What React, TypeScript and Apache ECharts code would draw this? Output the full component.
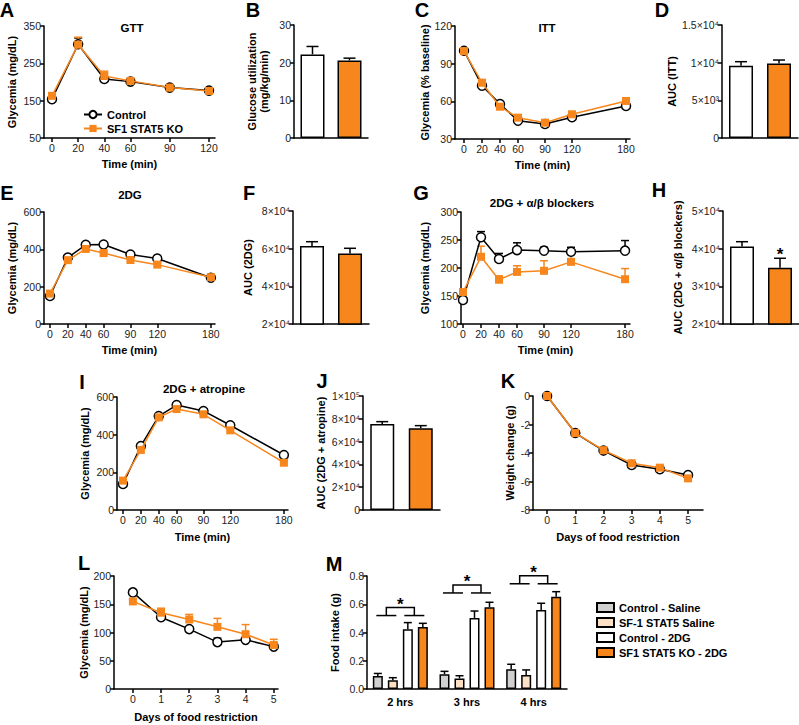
import React, { useEffect, useRef } from "react";
import * as echarts from "echarts";

const ORANGE = "#F7861C";
const PEACH = "#FBE0C4";
const GREY = "#D0D0D0";
const FONT = "Arial, 'Liberation Sans', Helvetica, sans-serif";

// ---------- A: GTT ----------
const gttTime = [0, 20, 40, 60, 90, 120];
const gttControl = [154, 301, 208, 201, 185, 177];
const gttControlSem = [4, 17, 5, 5, 4, 3];
const gttKO = [163, 300, 216, 203, 185, 176];
const gttKOSem = [4, 20, 13, 5, 3, 3];

// ---------- B ----------
const groups = ["Control", "SF1 STAT5 KO"];
const glucoseUtil = [22.2, 20.6];
const glucoseUtilSem = [2.1, 0.6];

// ---------- C: ITT ----------
const ittTime = [0, 20, 40, 60, 90, 120, 180];
const ittControl = [100.3, 72.5, 57.9, 44.6, 42, 47.3, 56.3];
const ittControlSem = [1.5, 2, 2, 1.5, 1.5, 1.5, 2];
const ittKO = [100, 74.8, 55.7, 47, 43, 49.7, 60.3];
const ittKOSem = [1.5, 2.5, 2, 1.5, 1.5, 2, 2];

// ---------- D ----------
const aucITT = [9600, 9900];
const aucITTSem = [530, 450];

// ---------- E: 2DG ----------
const dgTime = [0, 20, 40, 60, 90, 120, 180];
const dgControl = [150, 356, 424, 426, 372, 351, 248];
const dgControlSem = [6, 8, 8, 8, 8, 8, 8];
const dgKO = [163, 342, 402, 380, 343, 318, 251];
const dgKOSem = [6, 8, 8, 8, 8, 8, 8];

// ---------- F ----------
const aucDG = [61400, 57500];
const aucDGSem = [2300, 2700];

// ---------- G: 2DG + a/b blockers ----------
const abTime = [0, 20, 40, 60, 90, 120, 180];
const abControl = [143, 255, 216, 232, 231, 229, 231];
const abControlSem = [3, 10, 10, 13, 6, 8, 18];
const abKO = [157, 220, 179, 193, 195, 211, 180];
const abKOSem = [4, 19, 7, 11, 18, 20, 19];

// ---------- H ----------
const aucAB = [40600, 34950];
const aucABSem = [1250, 2500];

// ---------- I: 2DG + atropine ----------
const atTime = [0, 20, 40, 60, 90, 120, 180];
const atControl = [138, 340, 499, 557, 526, 450, 292];
const atControlSem = [6, 8, 8, 8, 8, 8, 8];
const atKO = [156, 319, 492, 536, 508, 423, 251];
const atKOSem = [6, 8, 8, 8, 8, 8, 8];

// ---------- J ----------
const aucAT = [75400, 71700];
const aucATSem = [2100, 2300];

// ---------- K: weight change ----------
const days = [0, 1, 2, 3, 4, 5];
const wtControl = [0, -2.6, -3.83, -4.84, -5.14, -5.54];
const wtControlSem = [0.05, 0.1, 0.1, 0.1, 0.1, 0.1];
const wtKO = [0, -2.6, -3.8, -4.72, -5.03, -5.78];
const wtKOSem = [0.05, 0.1, 0.1, 0.1, 0.1, 0.1];

// ---------- L: glycemia during food restriction ----------
const frControl = [171, 127, 106, 83, 87, 75];
const frControlSem = [5, 3, 4, 7, 3, 3];
const frKO = [155, 135, 123, 110, 97, 78];
const frKOSem = [4, 8, 9, 15, 17, 10];

// ---------- M: food intake ----------
const mTimes = ["2 hrs", "3 hrs", "4 hrs"];
const mGroups = ["Control - Saline", "SF-1 STAT5 Saline", "Control - 2DG", "SF1 STAT5 KO - 2DG"];
const ctlSaline = [0.092, 0.104, 0.139];
const ctlSalineSem = [0.018, 0.021, 0.036];
const koSaline = [0.062, 0.075, 0.099];
const koSalineSem = [0.018, 0.019, 0.036];
const ctl2DG = [0.423, 0.503, 0.56];
const ctl2DGSem = [0.047, 0.049, 0.047];
const ko2DG = [0.439, 0.578, 0.653];
const ko2DGSem = [0.026, 0.036, 0.036];
const mSigLevel = [0.52, 0.68, 0.745];

const SUPS: Record<string, string> = { "0": "⁰", "1": "¹", "2": "²", "3": "³", "4": "⁴", "5": "⁵", "6": "⁶", "7": "⁷", "8": "⁸", "9": "⁹" };
function sci(v: number): string {
  if (v === 0) return "0";
  const e = Math.floor(Math.log10(v) + 1e-9);
  const m = +(v / Math.pow(10, e)).toFixed(2);
  return `${m}×10${String(e).split("").map((c) => SUPS[c]).join("")}`;
}

const axisLineStyle = { show: true, onZero: false, lineStyle: { color: "#000", width: 1.5 } };
const tickStyle = { show: true, inside: false, length: 4, lineStyle: { color: "#000", width: 1.5 } };
const labelStyle = { color: "#222", fontSize: 10.5, fontFamily: FONT, margin: 3 };
const nameStyle = { color: "#000", fontSize: 11, fontWeight: "bold" as const, fontFamily: FONT };

function errRender(color: string, capHalf: number, offset = 0) {
  return (params: any, api: any) => {
    const x = api.value(0);
    const m = api.value(1);
    const e = api.value(2);
    const p0 = api.coord([x, m]);
    const p1 = api.coord([x, m + e]);
    const cx = p0[0] + offset;
    return {
      type: "group",
      children: [
        { type: "line", shape: { x1: cx, y1: p0[1], x2: cx, y2: p1[1] }, style: { stroke: color, lineWidth: 1.5 } },
        { type: "line", shape: { x1: cx - capHalf, y1: p1[1], x2: cx + capHalf, y2: p1[1] }, style: { stroke: color, lineWidth: 1.5 } },
      ],
    };
  };
}

function starRender() {
  return (params: any, api: any) => {
    const p = api.coord([api.value(0), api.value(1)]);
    return {
      type: "text",
      x: p[0],
      y: p[1] - 4,
      style: { text: "*", fill: "#000", font: `bold 17px ${FONT}`, align: "center", verticalAlign: "middle" },
    };
  };
}

function bracketRender() {
  return (params: any, api: any) => {
    const c = api.coord([api.value(0), api.value(1)]);
    const b = api.size([1, 0])[0];
    const y = c[1];
    const top = y - 8;
    const st = { stroke: "#000", lineWidth: 1.5, fill: "none" };
    return {
      type: "group",
      children: [
        { type: "line", shape: { x1: c[0] - 0.36 * b, y1: y, x2: c[0] - 0.06 * b, y2: y }, style: st },
        { type: "line", shape: { x1: c[0] + 0.06 * b, y1: y, x2: c[0] + 0.36 * b, y2: y }, style: st },
        { type: "polyline", shape: { points: [[c[0] - 0.21 * b, y], [c[0] - 0.21 * b, top], [c[0] + 0.21 * b, top], [c[0] + 0.21 * b, y]] }, style: st },
        { type: "text", x: c[0], y: top - 3, style: { text: "*", fill: "#000", font: `bold 17px ${FONT}`, align: "center", verticalAlign: "middle" } },
      ],
    };
  };
}

const zip = (xs: number[], ys: number[]) => xs.map((x, i) => [x, ys[i]]);
const zip3 = (xs: number[], ys: number[], es: number[]) => xs.map((x, i) => [x, ys[i], es[i]]);

function buildOption() {
  const grid: any[] = [];
  const xAxis: any[] = [];
  const yAxis: any[] = [];
  const series: any[] = [];

  function linePanel(p: any) {
    const i = grid.length;
    grid.push({ ...p.rect, outerBoundsMode: "none", containLabel: false });
    xAxis.push({
      type: "value", gridIndex: i, min: p.xMin, max: p.xMax,
      axisLine: axisLineStyle, splitLine: { show: false },
      axisTick: { ...tickStyle, customValues: p.x },
      axisLabel: { ...labelStyle, margin: 4, customValues: p.x },
      name: p.xName, nameLocation: "middle", nameGap: p.xNameGap, nameTextStyle: nameStyle,
    });
    yAxis.push({
      type: "value", gridIndex: i, min: p.yMin, max: p.yMax, interval: p.yInterval,
      axisLine: axisLineStyle, splitLine: { show: false }, axisTick: tickStyle, axisLabel: labelStyle,
      name: p.yName, nameLocation: "middle", nameGap: p.yNameGap, nameTextStyle: nameStyle,
    });
    series.push({
      type: "custom", name: "errC" + i, xAxisIndex: i, yAxisIndex: i, z: 1, silent: true, clip: false,
      renderItem: errRender("#000", 4), data: zip3(p.x, p.ctl, p.ctlSem),
    });
    series.push({
      type: "custom", name: "errK" + i, xAxisIndex: i, yAxisIndex: i, z: 1, silent: true, clip: false,
      renderItem: errRender(ORANGE, 4), data: zip3(p.x, p.ko, p.koSem),
    });
    series.push({
      type: "line", name: "Control", xAxisIndex: i, yAxisIndex: i, data: zip(p.x, p.ctl), z: 3,
      symbol: "circle", symbolSize: 9, silent: true,
      itemStyle: { color: "#fff", borderColor: "#000", borderWidth: 1.5 },
      lineStyle: { color: "#000", width: 1.5 },
    });
    series.push({
      type: "line", name: "SF1 STAT5 KO", xAxisIndex: i, yAxisIndex: i, data: zip(p.x, p.ko), z: 4,
      symbol: "rect", symbolSize: 8, silent: true,
      itemStyle: { color: ORANGE, borderColor: ORANGE, borderWidth: 0 },
      lineStyle: { color: ORANGE, width: 1.5 },
    });
  }

  function barPanel(p: any) {
    const i = grid.length;
    grid.push({ ...p.rect, outerBoundsMode: "none", containLabel: false });
    xAxis.push({
      type: "category", gridIndex: i, data: groups,
      axisLine: axisLineStyle, axisTick: { show: false }, axisLabel: { show: false }, splitLine: { show: false },
    });
    yAxis.push({
      type: "value", gridIndex: i, min: p.yMin, max: p.yMax, interval: p.yInterval,
      axisLine: axisLineStyle, splitLine: { show: false }, axisTick: tickStyle,
      axisLabel: { ...labelStyle, formatter: p.fmt || ((v: number) => String(v)) },
      name: p.yName, nameLocation: "middle", nameGap: p.yNameGap, nameTextStyle: { ...nameStyle, lineHeight: 12 },
    });
    series.push({
      type: "bar", name: "auc" + i, xAxisIndex: i, yAxisIndex: i, barWidth: 24, silent: true, z: 2,
      data: p.values.map((v: number, j: number) => ({
        value: v,
        itemStyle: { color: j === 0 ? "#fff" : ORANGE, borderColor: "#000", borderWidth: 1.5 },
      })),
    });
    series.push({
      type: "custom", name: "errB" + i, xAxisIndex: i, yAxisIndex: i, z: 3, silent: true, clip: false,
      renderItem: errRender("#000", 6), data: p.values.map((v: number, j: number) => [j, v, p.sem[j]]),
    });
    if (p.star) {
      series.push({
        type: "custom", name: "star" + i, xAxisIndex: i, yAxisIndex: i, z: 3, silent: true, clip: false,
        renderItem: starRender(), data: p.star,
      });
    }
  }

  // A
  linePanel({
    rect: { left: 44, top: 26, width: 171, height: 112 }, xMin: -6.1, xMax: 124.6, x: gttTime,
    yMin: 50, yMax: 350, yInterval: 100, xName: "Time (min)", xNameGap: 20, yName: "Glycemia (mg/dL)", yNameGap: 27,
    ctl: gttControl, ctlSem: gttControlSem, ko: gttKO, koSem: gttKOSem,
  });
  // B
  barPanel({
    rect: { left: 294, top: 25, width: 74, height: 113 }, yMin: 0, yMax: 30, yInterval: 10,
    yName: "Glucose utilization\n(mg/kg/min)", yNameGap: 24, values: glucoseUtil, sem: glucoseUtilSem,
  });
  // C
  linePanel({
    rect: { left: 455, top: 26, width: 175, height: 113 }, xMin: -10, xMax: 184.4, x: ittTime,
    yMin: 30, yMax: 120, yInterval: 30, xName: "Time (min)", xNameGap: 20, yName: "Glycemia (% baseline)", yNameGap: 23,
    ctl: ittControl, ctlSem: ittControlSem, ko: ittKO, koSem: ittKOSem,
  });
  // D
  barPanel({
    rect: { left: 722, top: 25, width: 76, height: 113 }, yMin: 0, yMax: 15000, yInterval: 5000,
    yName: "AUC (ITT)", yNameGap: 40, values: aucITT, sem: aucITTSem, fmt: sci,
  });
  // E
  linePanel({
    rect: { left: 44, top: 212, width: 171, height: 112 }, xMin: -6.7, xMax: 184.6, x: dgTime,
    yMin: 0, yMax: 600, yInterval: 200, xName: "Time (min)", xNameGap: 20, yName: "Glycemia (mg/dL)", yNameGap: 27,
    ctl: dgControl, ctlSem: dgControlSem, ko: dgKO, koSem: dgKOSem,
  });
  // F
  barPanel({
    rect: { left: 293, top: 211, width: 76, height: 113 }, yMin: 20000, yMax: 80000, yInterval: 20000,
    yName: "AUC (2DG)", yNameGap: 39, values: aucDG, sem: aucDGSem, fmt: sci,
  });
  // G
  linePanel({
    rect: { left: 461, top: 212, width: 169, height: 112 }, xMin: -2.2, xMax: 185.5, x: abTime,
    yMin: 100, yMax: 300, yInterval: 50, xName: "Time (min)", xNameGap: 20, yName: "Glycemia (mg/dL)", yNameGap: 31,
    ctl: abControl, ctlSem: abControlSem, ko: abKO, koSem: abKOSem,
  });
  // H
  barPanel({
    rect: { left: 723, top: 211, width: 76, height: 113 }, yMin: 20000, yMax: 50000, yInterval: 10000,
    yName: "AUC (2DG + α/β blockers)", yNameGap: 39, values: aucAB, sem: aucABSem, fmt: sci,
    star: [[1, aucAB[1] + aucABSem[1]]],
  });
  // I
  linePanel({
    rect: { left: 117, top: 397, width: 171, height: 113 }, xMin: -6.7, xMax: 184.6, x: atTime,
    yMin: 0, yMax: 600, yInterval: 200, xName: "Time (min)", xNameGap: 21, yName: "Glycemia (mg/dL)", yNameGap: 27,
    ctl: atControl, ctlSem: atControlSem, ko: atKO, koSem: atKOSem,
  });
  // J
  barPanel({
    rect: { left: 363, top: 396, width: 77, height: 114 }, yMin: 0, yMax: 100000, yInterval: 20000,
    yName: "AUC (2DG + atropine)", yNameGap: 36, values: aucAT, sem: aucATSem, fmt: sci,
  });
  // K
  linePanel({
    rect: { left: 533, top: 396, width: 170, height: 114 }, xMin: -0.5, xMax: 5.53, x: days,
    yMin: -8, yMax: 0, yInterval: 2, xName: "Days of food restriction", xNameGap: 21, yName: "Weight change (g)", yNameGap: 18,
    ctl: wtControl, ctlSem: wtControlSem, ko: wtKO, koSem: wtKOSem,
  });
  // L
  linePanel({
    rect: { left: 114, top: 576, width: 164, height: 113 }, xMin: -0.67, xMax: 5.15, x: days,
    yMin: 0, yMax: 200, yInterval: 50, xName: "Days of food restriction", xNameGap: 22, yName: "Glycemia (mg/dL)", yNameGap: 24,
    ctl: frControl, ctlSem: frControlSem, ko: frKO, koSem: frKOSem,
  });

  // M
  const mi = grid.length;
  grid.push({ left: 367, top: 576, width: 200, height: 113, outerBoundsMode: "none", containLabel: false });
  xAxis.push({
    type: "category", gridIndex: mi, data: mTimes,
    axisLine: axisLineStyle, axisTick: { show: false }, splitLine: { show: false },
    axisLabel: { ...labelStyle, fontWeight: "bold", color: "#000", fontSize: 11, margin: 7 },
  });
  yAxis.push({
    type: "value", gridIndex: mi, min: 0, max: 0.8, interval: 0.2,
    axisLine: axisLineStyle, splitLine: { show: false }, axisTick: tickStyle,
    axisLabel: { ...labelStyle, formatter: (v: number) => v.toFixed(1) },
    name: "Food intake (g)", nameLocation: "middle", nameGap: 27, nameTextStyle: nameStyle,
  });
  const mVals = [ctlSaline, koSaline, ctl2DG, ko2DG];
  const mSems = [ctlSalineSem, koSalineSem, ctl2DGSem, ko2DGSem];
  const mCols = [GREY, PEACH, "#fff", ORANGE];
  mVals.forEach((vals, k) => {
    series.push({
      type: "bar", name: mGroups[k], xAxisIndex: mi, yAxisIndex: mi, barWidth: 10, barGap: "50%", silent: true, z: 2,
      data: vals, itemStyle: { color: mCols[k], borderColor: "#000", borderWidth: 1.5 },
    });
    series.push({
      type: "custom", name: "errM" + k, xAxisIndex: mi, yAxisIndex: mi, z: 3, silent: true, clip: false,
      renderItem: errRender("#000", 4, (k - 1.5) * 15), data: vals.map((v, j) => [j, v, mSems[k][j]]),
    });
  });
  series.push({
    type: "custom", name: "sigM", xAxisIndex: mi, yAxisIndex: mi, z: 3, silent: true, clip: false,
    renderItem: bracketRender(), data: mSigLevel.map((v, j) => [j, v]),
  });

  const letters: [string, number, number][] = [
    ["A", 7, 10], ["B", 253, 10], ["C", 422, 10], ["D", 662, 10],
    ["E", 7, 193], ["F", 249, 193], ["G", 421, 193], ["H", 659, 190],
    ["I", 82, 382], ["J", 322, 381], ["K", 508, 381], ["L", 84, 563], ["M", 334, 564],
  ];
  const titles: [string, number, number][] = [
    ["GTT", 132, 28], ["ITT", 547, 28], ["2DG", 130, 195],
    ["2DG + α/β blockers", 542, 203], ["2DG + atropine", 204, 389],
  ];
  const graphic: any[] = [
    ...letters.map(([t, x, y]) => ({
      type: "text", x, y, silent: true,
      style: { text: t, fill: "#000", font: `bold 20px ${FONT}`, align: "center", verticalAlign: "middle" },
    })),
    ...titles.map(([t, x, y]) => ({
      type: "text", x, y, silent: true,
      style: { text: t, fill: "#000", font: `bold 11.5px ${FONT}`, align: "center", verticalAlign: "middle" },
    })),
  ];

  return {
    animation: false,
    backgroundColor: "#fff",
    textStyle: { fontFamily: FONT },
    grid, xAxis, yAxis, series, graphic,
    legend: [
      {
        data: ["Control", "SF1 STAT5 KO"], orient: "vertical", left: 78, top: 104,
        itemWidth: 18, itemHeight: 9, itemGap: 3, selectedMode: false,
        textStyle: { color: "#000", fontWeight: "bold", fontSize: 11, fontFamily: FONT },
      },
      {
        data: mGroups, orient: "vertical", left: 591, top: 597, icon: "rect",
        itemWidth: 17, itemHeight: 9, itemGap: 4, selectedMode: false,
        textStyle: { color: "#000", fontWeight: "bold", fontSize: 11, fontFamily: FONT },
      },
    ],
  };
}

export default function App() {
  const ref = useRef<HTMLDivElement>(null);
  useEffect(() => {
    const chart = echarts.init(ref.current!, null, { renderer: "svg" });
    chart.setOption(buildOption() as any);
    return () => chart.dispose();
  }, []);
  return (
    <div
      ref={ref}
      style={{ position: "fixed", left: 0, top: 0, width: 799, height: 725, background: "#fff" }}
    />
  );
}
